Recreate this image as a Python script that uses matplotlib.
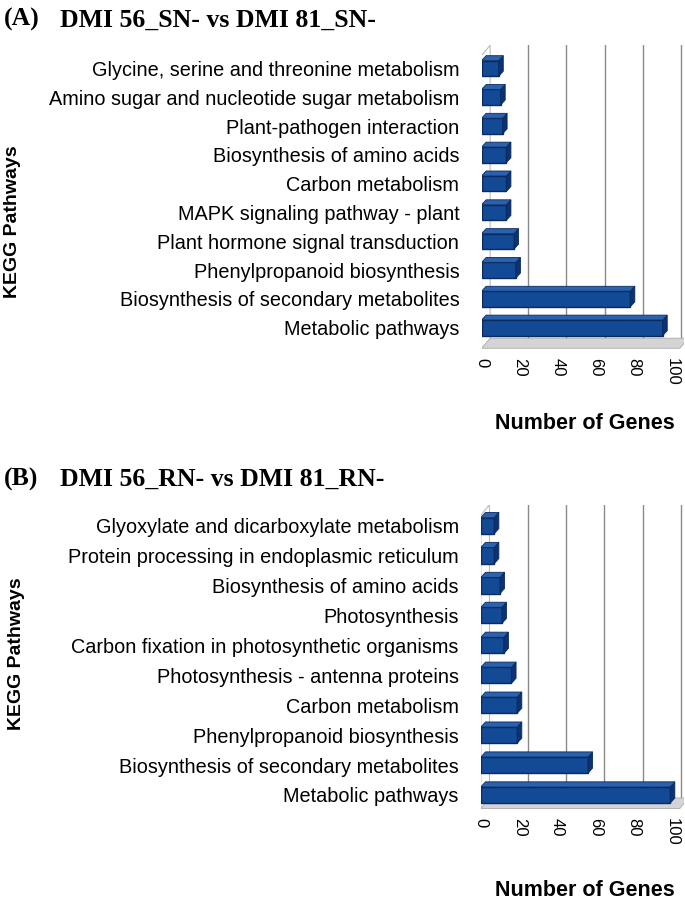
import matplotlib.pyplot as plt
from matplotlib.patches import Polygon

# Panel A: DMI 56_SN- vs DMI 81_SN-
pathways_a = [
    "Metabolic pathways",
    "Biosynthesis of secondary metabolites",
    "Phenylpropanoid biosynthesis",
    "Plant hormone signal transduction",
    "MAPK signaling pathway - plant",
    "Carbon metabolism",
    "Biosynthesis of amino acids",
    "Plant-pathogen interaction",
    "Amino sugar and nucleotide sugar metabolism",
    "Glycine, serine and threonine metabolism",
]
genes_a = [95, 78, 18, 17, 13, 13, 13, 11, 10, 9]

# Panel B: DMI 56_RN- vs DMI 81_RN-
pathways_b = [
    "Metabolic pathways",
    "Biosynthesis of secondary metabolites",
    "Phenylpropanoid biosynthesis",
    "Carbon metabolism",
    "Photosynthesis - antenna proteins",
    "Carbon fixation in photosynthetic organisms",
    "Photosynthesis",
    "Biosynthesis of amino acids",
    "Protein processing in endoplasmic reticulum",
    "Glyoxylate and dicarboxylate metabolism",
]
genes_b = [99, 56, 19, 19, 16, 12, 11, 10, 7, 7]

xticks = [0, 20, 40, 60, 80, 100]

FRONT = "#124a96"
EDGE = "#0a2a60"
SIDE = "#0c3270"
DX, DY = 2.4, 0.17        # bar depth (data units)
WX, WY = 4.5, 0.35        # back wall offset


def kegg_panel(ax, names, values, ylo, yhi):
    n = len(names)
    ys = list(range(n))
    ax.set_xlim(0, 106)
    ax.set_ylim(ylo, yhi)
    floor = ylo + 0.05
    # back wall grid lines
    for t in xticks[1:]:
        ax.plot([t + WX, t + WX], [floor + WY, yhi], color="#8a8a8a", lw=1.0, zorder=1)
    # left wall
    ax.plot([0, 0, WX, WX], [floor, yhi - WY, yhi, floor + WY], color="#bbbbbb", lw=0.8, zorder=1)
    # floor
    ax.add_patch(Polygon([(0, floor), (104, floor), (104 + WX, floor + WY), (WX, floor + WY)],
                         closed=True, facecolor="#d4d4d4", edgecolor="#aaaaaa", lw=0.6, zorder=1))
    h = 0.54
    ax.barh(ys, values, height=h, color=FRONT, edgecolor=EDGE, lw=1.0, zorder=3)
    for y, v in zip(ys, values):
        top = y + h / 2
        bot = y - h / 2
        ax.add_patch(Polygon([(v, bot), (v + DX, bot + DY), (v + DX, top + DY), (v, top)],
                             closed=True, facecolor=SIDE, edgecolor=EDGE, lw=0.6, zorder=3))
        ax.add_patch(Polygon([(0, top), (DX, top + DY), (v + DX, top + DY), (v, top)],
                             closed=True, facecolor="#2a62ad", edgecolor=EDGE, lw=0.6, zorder=3))
    ax.set_yticks(ys)
    ax.set_yticklabels(names, fontsize=14.3, family="Liberation Sans")
    ax.set_xticks(xticks)
    ax.set_xticklabels([str(t) for t in xticks], rotation=-90, fontsize=12,
                       family="Liberation Sans")
    ax.tick_params(length=0, pad=6)
    ax.tick_params(axis="y", pad=16)
    for s in ax.spines.values():
        s.set_visible(False)


fig = plt.figure(figsize=(6.85, 9.06), dpi=100)

ax1 = fig.add_axes([0.703, 0.614, 0.295, 0.336])
kegg_panel(ax1, pathways_a, genes_a, -0.76, 9.8)
ax2 = fig.add_axes([0.702, 0.106, 0.296, 0.337])
kegg_panel(ax2, pathways_b, genes_b, -0.5, 9.7)

title_font = dict(family="Liberation Serif", fontweight="bold", fontsize=18.5)
fig.text(0.006, 0.978, "(A)", va="center", **title_font)
fig.text(0.087, 0.978, "DMI 56_SN- vs DMI 81_SN-", va="center", **title_font)
fig.text(0.006, 0.471, "(B)", va="center", **title_font)
fig.text(0.087, 0.471, "DMI 56_RN- vs DMI 81_RN-", va="center", **title_font)

label_font = dict(family="Liberation Sans", fontweight="bold", fontsize=15.5)
fig.text(0.854, 0.533, "Number of Genes", ha="center", va="center", **label_font)
fig.text(0.854, 0.017, "Number of Genes", ha="center", va="center", **label_font)
fig.text(0.018, 0.755, "KEGG Pathways", rotation=90, ha="center", va="center", fontsize=14,
         family="Liberation Sans", fontweight="bold")
fig.text(0.024, 0.279, "KEGG Pathways", rotation=90, ha="center", va="center", fontsize=14,
         family="Liberation Sans", fontweight="bold")

fig.savefig("out.png", dpi=100)
